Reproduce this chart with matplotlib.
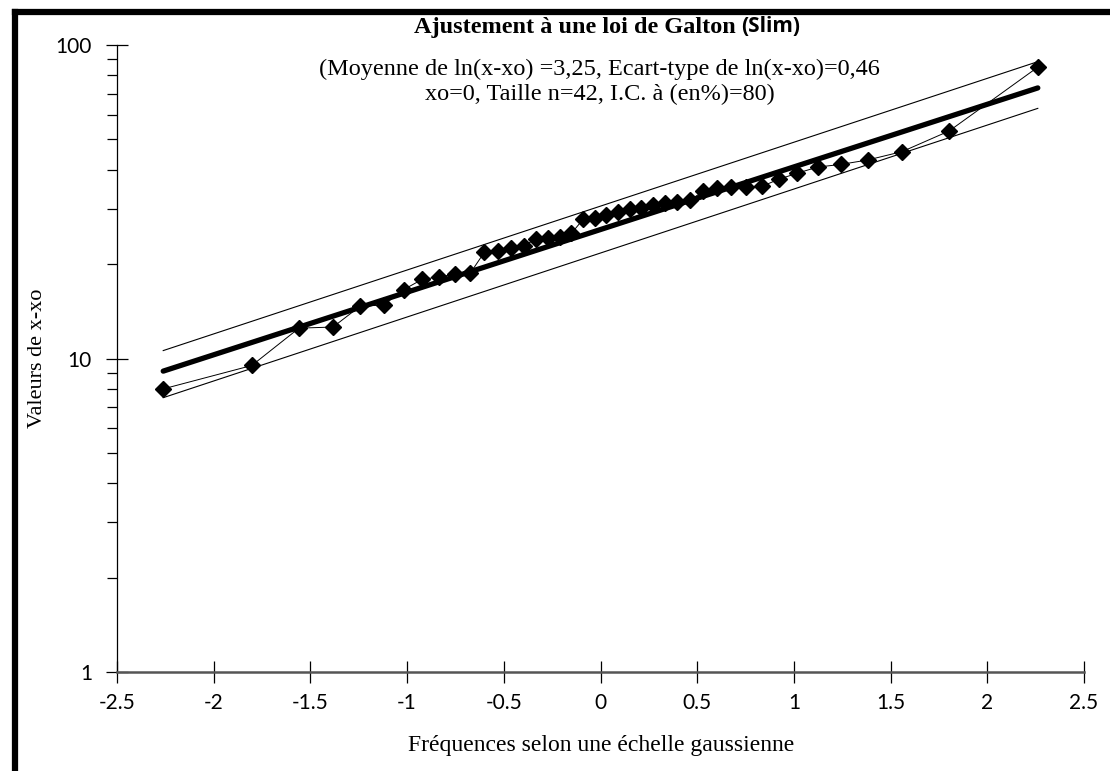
import numpy as np
import matplotlib
matplotlib.use("Agg")
import matplotlib.pyplot as plt
from matplotlib.lines import Line2D
from matplotlib.ticker import LogLocator, FixedLocator, NullFormatter

# Gaussian reduced variable (Hazen positions, n = 42)
u_vals = [-2.261, -1.803, -1.559, -1.383, -1.242, -1.122, -1.017, -0.921, -0.834, -0.752,
          -0.674, -0.601, -0.532, -0.464, -0.398, -0.335, -0.272, -0.210, -0.150, -0.090,
          -0.030, 0.030, 0.090, 0.150, 0.210, 0.272, 0.335, 0.398, 0.464, 0.532,
          0.601, 0.674, 0.752, 0.834, 0.921, 1.017, 1.122, 1.242, 1.383, 1.559,
          1.803, 2.261]

# sorted sample values (x - xo)
x_vals = [8.0, 9.5, 12.5, 12.6, 14.7, 14.8, 16.6, 17.9, 18.2, 18.6,
          18.7, 21.8, 22.0, 22.5, 22.9, 24.0, 24.2, 24.4, 25.1, 27.8,
          28.1, 28.7, 29.4, 29.9, 30.3, 30.9, 31.3, 31.5, 32.0, 34.2,
          35.0, 35.2, 35.2, 35.4, 37.3, 39.0, 40.8, 41.6, 43.0, 45.7,
          53.2, 85.0]

# fitted parameters of ln(x - xo)
mu = 3.25
sigma = 0.46

# 80 % confidence band, values at both ends of the u range
band_u = [-2.261, 2.261]
band_upper = [10.6, 88.5]
band_lower = [7.5, 62.8]

x_ticks = [-2.5, -2, -1.5, -1, -0.5, 0, 0.5, 1, 1.5, 2, 2.5]
x_tick_labels = ['-2.5', '-2', '-1.5', '-1', '-0.5', '0', '0.5', '1', '1.5', '2', '2.5']

serif = ['Liberation Serif', 'DejaVu Serif']
sans = ['Lato', 'DejaVu Sans']

W, H = 1110, 771
fig = plt.figure(figsize=(W / 100, H / 100), dpi=100)
ax = fig.add_axes([0.1054, 0.1284, 0.8712, 0.8132])

ax.set_yscale('log')
ax.set_xlim(-2.5, 2.5)
ax.set_ylim(1, 100)

# fitted Galton line
u = np.array(u_vals)
ax.plot(u, np.exp(mu + sigma * u), color='black', lw=3.8, solid_capstyle='round', zorder=3)

# confidence band
ax.plot(band_u, band_upper, color='black', lw=0.8, zorder=2)
ax.plot(band_u, band_lower, color='black', lw=0.8, zorder=2)

# observed values
ax.plot(u_vals, x_vals, color='black', lw=0.7, marker='D', markersize=8.4,
        markerfacecolor='black', markeredgecolor='black', zorder=4)

# axes styling
for side in ['top', 'right']:
    ax.spines[side].set_visible(False)
ax.spines['left'].set_color('black')
ax.spines['left'].set_linewidth(0.9)
ax.spines['bottom'].set_color('#555555')
ax.spines['bottom'].set_linewidth(1.8)

ax.xaxis.set_major_locator(FixedLocator(x_ticks))
ax.set_xticklabels(x_tick_labels, fontfamily=sans, fontsize=15)
ax.tick_params(axis='x', which='major', direction='inout', length=16, width=0.9,
               color='black', pad=7)

ax.yaxis.set_major_locator(FixedLocator([1, 10, 100]))
ax.set_yticklabels(['1', '10', '100'], fontfamily=sans, fontsize=15)
ax.yaxis.set_minor_locator(LogLocator(base=10, subs=np.arange(2, 10)))
ax.yaxis.set_minor_formatter(NullFormatter())
ax.tick_params(axis='y', which='major', direction='inout', length=16, width=0.9, pad=10)
ax.tick_params(axis='y', which='minor', direction='out', length=7, width=0.9)

# axis titles
fig.text(601 / W, 1 - 745 / H, 'Fréquences selon une échelle gaussienne', ha='center',
         va='center', fontfamily=serif, fontsize=17)
fig.text(38 / W, 1 - 358 / H, 'Valeurs de x-xo', ha='center', va='center', rotation=90,
         fontfamily=serif, fontsize=16)

# chart title and fit summary
fig.text(736 / W, 1 - 27 / H, 'Ajustement à une loi de Galton', ha='right', va='center',
         fontfamily=serif, fontsize=17.5, fontweight='bold')
fig.text(741 / W, 1 - 26 / H, '(Slim)', ha='left', va='center',
         fontfamily=['Open Sans', 'DejaVu Sans'], fontsize=15, fontweight='bold')
fig.text(599 / W, 1 - 69 / H, '(Moyenne de ln(x-xo) =3,25, Ecart-type de ln(x-xo)=0,46',
         ha='center', va='center', fontfamily=serif, fontsize=17.5)
fig.text(600 / W, 1 - 94 / H, 'xo=0, Taille n=42, I.C. à (en%)=80)',
         ha='center', va='center', fontfamily=serif, fontsize=17.5)

# outer frame (left and top edges)
fig.add_artist(Line2D([0.0135, 0.0135], [0.0, 0.984], transform=fig.transFigure,
                      color='black', lw=4.5, solid_capstyle='projecting'))
fig.add_artist(Line2D([0.0135, 1.0], [0.984, 0.984], transform=fig.transFigure,
                      color='black', lw=4.5, solid_capstyle='projecting'))

fig.savefig('out.png', dpi=100)
plt.close(fig)
